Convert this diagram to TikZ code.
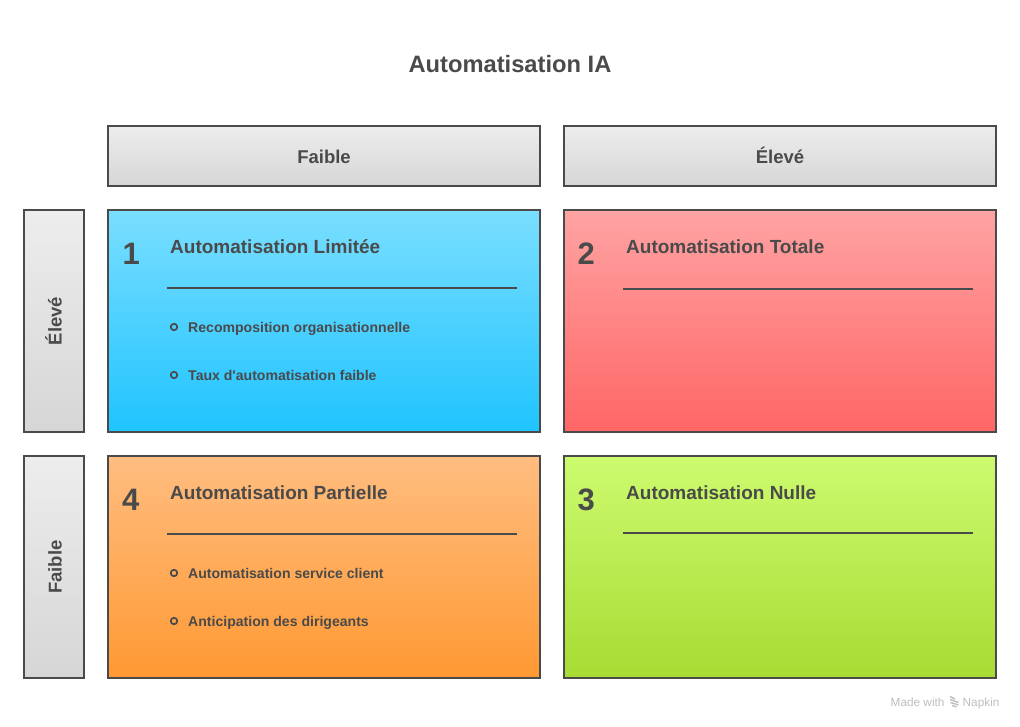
\documentclass[tikz,border=0pt]{standalone}
\usepackage{fontspec}
\setmainfont{Liberation Sans}
\newfontfamily\plainface{Liberation Sans}
\definecolor{ink}{HTML}{4A4A4A}
\definecolor{faint}{HTML}{BDBDBD}
\definecolor{gtop}{HTML}{EDEDED}
\definecolor{gbot}{HTML}{D6D6D6}
\definecolor{btop}{HTML}{7ADEFF}
\definecolor{bbot}{HTML}{1FC4FF}
\definecolor{rtop}{HTML}{FFA3A3}
\definecolor{rbot}{HTML}{FF6666}
\definecolor{otop}{HTML}{FFBD80}
\definecolor{obot}{HTML}{FF9933}
\definecolor{ltop}{HTML}{CCFB6F}
\definecolor{lbot}{HTML}{A8DB33}
\tikzset{
  x=1pt,y=-1pt,
  panel/.style={draw=ink,line width=2pt,rectangle,inner sep=0pt,outer sep=0pt,top color=#1top,bottom color=#1bot},
  hdr/.style={anchor=base,inner sep=0pt,font=\fontsize{18.5}{18.5}\selectfont\bfseries,text=ink},
  bigtitle/.style={anchor=base,font=\fontsize{23.7}{24}\selectfont\bfseries,text=ink},
  num/.style={anchor=base west,font=\fontsize{31}{31}\selectfont\bfseries,text=ink},
  ttl/.style={anchor=base west,font=\fontsize{19}{19}\selectfont\bfseries,text=ink,inner sep=0pt},
  itm/.style={anchor=base west,font=\plainface\fontsize{14.07}{14}\selectfont\bfseries,text=ink,inner sep=0pt},
  rulel/.style={draw=ink,line width=1.6pt},
  dot/.style={draw=ink,line width=1.7pt,circle,minimum size=6.5pt,inner sep=0pt,fill=none},
}
\begin{document}
\begin{tikzpicture}
\useasboundingbox (0,0) rectangle (1020,726);
\node[bigtitle,inner sep=0pt] (title) at (510,72.7) {Automatisation IA};
\path[panel=g] (108,126) rectangle (540,186);
\path[panel=g] (564,126) rectangle (996,186);
\path[panel=g] (24,210) rectangle (84,432);
\path[panel=g] (24,456) rectangle (84,678);
\path[panel=b] (108,210) rectangle (540,432);
\path[panel=r] (564,210) rectangle (996,432);
\path[panel=o] (108,456) rectangle (540,678);
\path[panel=l] (564,456) rectangle (996,678);
\node[hdr] (colA) at (324,163) {Faible};
\node[hdr] (colB) at (780,163) {Élevé};
\node[hdr,rotate=90] (rowA) at (61.5,321) {Élevé};
\node[hdr,rotate=90] (rowB) at (61.5,567) {Faible};
\node[num,inner sep=0pt] (n1) at (122.5,264) {1};
\node[num,inner sep=0pt] (n2) at (577.5,264) {2};
\node[num,inner sep=0pt] (n4) at (122,510) {4};
\node[num,inner sep=0pt] (n3) at (577.5,510) {3};
\node[ttl] (t1) at (170,253.5) {Automatisation Limitée};
\node[ttl] (t2) at (626,253.5) {Automatisation Totale};
\node[ttl] (t4) at (170,499.5) {Automatisation Partielle};
\node[ttl] (t3) at (626,499.5) {Automatisation Nulle};
\coordinate (a1) at (167,288); \coordinate (b1) at (517,288);
\coordinate (a2) at (623,289); \coordinate (b2) at (973,289);
\coordinate (a4) at (167,534); \coordinate (b4) at (517,534);
\coordinate (a3) at (623,533); \coordinate (b3) at (973,533);
\draw[rulel] (a1)--(b1); \draw[rulel] (a2)--(b2); \draw[rulel] (a4)--(b4); \draw[rulel] (a3)--(b3);
\node[dot] (d1) at (174,327) {};
\node[dot] (d2) at (174,375) {};
\node[dot] (d3) at (174,573) {};
\node[dot] (d4) at (174,621) {};
\node[itm] (i1) at (188,332.5) {Recomposition organisationnelle};
\node[itm] (i2) at (188,380.5) {Taux d'automatisation faible};
\node[itm] (i3) at (188,578.5) {Automatisation service client};
\node[itm] (i4) at (188,626.5) {Anticipation des dirigeants};
\node[anchor=base west,inner sep=0pt,text=faint,font=\fontsize{11.8}{12}\selectfont] (m1) at (890.5,706) {Made with};
\node[anchor=base west,inner sep=0pt,text=faint,font=\fontsize{11.8}{12}\selectfont] (m2) at (962.5,706) {Napkin};
\draw[faint,line width=1.4pt] (950,696.5)--(955,699) (950,699.5)--(958.5,702.5) (950.5,702.5)--(958.5,705) (952,705.5)--(956.5,707);
\end{tikzpicture}
\end{document}
